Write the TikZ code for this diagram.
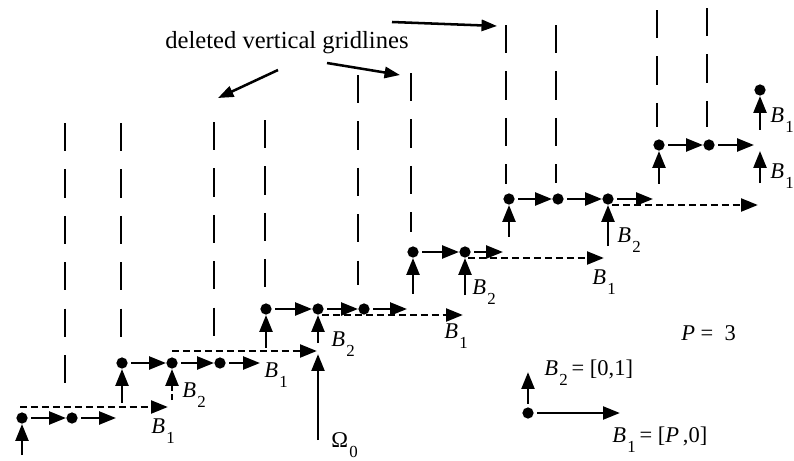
\documentclass[tikz,border=0pt]{standalone}
\usepackage{fontspec}
\setmainfont{Liberation Serif}
\usetikzlibrary{arrows.meta}

\newcommand{\vsub}[2]{#1\kern1pt\raisebox{-0.45em}{\fontsize{12}{12}\selectfont #2}}

\begin{document}
\begin{tikzpicture}[x=0.025cm, y=-0.025cm,
    site/.style={circle, fill=black, inner sep=0pt, minimum size=8pt},
    spot/.style={circle, inner sep=0pt, minimum size=8pt},
    vec/.style={line width=2.1pt, -{Triangle[length=12pt, width=9pt]}},
    hvec/.style={vec, shorten <=2.5pt},
    upvec/.style={vec, shorten <=6.5pt},
    bvec/.style={vec, dash pattern=on 5pt off 2.8pt},
    gridline/.style={line width=2pt, dash pattern=on 20pt off 13pt},
    lab/.style={anchor=base west, inner sep=0pt, font=\fontsize{16}{18}\selectfont},
    note/.style={line width=1.8pt, -{Triangle[length=11pt, width=8pt]}}]
  \useasboundingbox (0,0) rectangle (794,460);

  % deleted vertical gridlines, in pairs
  \draw[gridline] (65,123) -- (65,395);
  \draw[gridline] (121,123) -- (121,340);
  \draw[gridline] (214,122) -- (214,338);
  \draw[gridline] (265,120) -- (265,287);
  \draw[gridline] (358,75) -- (358,285);
  \draw[gridline] (411,73) -- (411,232);
  \draw[gridline] (506,25) -- (506,184);
  \draw[gridline] (556,25) -- (556,183);
  \draw[gridline] (657,10) -- (657,127);
  \draw[gridline] (707,8) -- (707,127);

  % lattice points on the staircase
  \node[site] (p0) at (22,418) {};
  \node[site] (p1) at (72,418) {};
  \node[spot] (e0) at (122,418) {};
  \node[site] (p2) at (122,363) {};
  \node[site] (p3) at (172,363) {};
  \node[site] (p4) at (220,363) {};
  \node[spot] (e1) at (266,363) {};
  \node[site] (p5) at (266,309) {};
  \node[site] (p6) at (318,309) {};
  \node[site] (p7) at (364,309) {};
  \node[spot] (e2) at (413,309) {};
  \node[site] (p8) at (413,252) {};
  \node[site] (p9) at (465,252) {};
  \node[spot] (e3) at (509,252) {};
  \node[site] (p10) at (509,199) {};
  \node[site] (p11) at (558,199) {};
  \node[site] (p12) at (608,199) {};
  \node[spot] (e4) at (659,199) {};
  \node[site] (p13) at (659,145) {};
  \node[site] (p14) at (709,145) {};
  \node[spot] (e5) at (760,145) {};
  \node[site] (p15) at (760,90) {};

  % unit steps along each row
  \draw[hvec] (p0) -- (p1);
  \draw[hvec] (p1) -- (e0);
  \draw[hvec] (p2) -- (p3);
  \draw[hvec] (p3) -- (p4);
  \draw[hvec] (p4) -- (e1);
  \draw[hvec] (p5) -- (p6);
  \draw[hvec] (p6) -- (p7);
  \draw[hvec] (p7) -- (e2);
  \draw[hvec] (p8) -- (p9);
  \draw[hvec] (p9) -- (e3);
  \draw[hvec] (p10) -- (p11);
  \draw[hvec] (p11) -- (p12);
  \draw[hvec] (p12) -- (e4);
  \draw[hvec] (p13) -- (p14);
  \draw[hvec] (p14) -- (e5);

  % unit steps up to the next row
  \coordinate (u0) at (22,455);
  \draw[vec] (u0) -- (p0);
  \draw[upvec] (e0) -- (p2);
  \draw[upvec] (e1) -- (p5);
  \draw[upvec] (e2) -- (p8);
  \draw[upvec] (e3) -- (p10);
  \draw[upvec] (e4) -- (p13);
  \draw[upvec] (e5) -- (p15);

  % B1 steps (dashed) and the B2 steps after them
  \coordinate (a0) at (20,407);  \coordinate (b0) at (168,407);
  \coordinate (a1) at (172,351); \coordinate (b1) at (317,351);
  \coordinate (a2) at (322,315); \coordinate (b2) at (463,315);
  \coordinate (a3) at (468,258); \coordinate (b3) at (604,258);
  \coordinate (a4) at (612,205); \coordinate (b4) at (758,205);
  \draw[bvec] (a0) -- (b0);
  \draw[bvec] (a1) -- (b1);
  \draw[bvec] (a2) -- (b2);
  \draw[bvec] (a3) -- (b3);
  \draw[bvec] (a4) -- (b4);
  \coordinate (c3) at (172,400);
  \coordinate (c6) at (318,343);
  \coordinate (c9) at (465,295);
  \coordinate (c12) at (608,246);
  \coordinate (c15) at (760,183);
  \draw[vec, dash pattern=on 4pt off 2.5pt] (c3) -- (p3);
  \draw[vec] (c6) -- (p6);
  \draw[vec] (c9) -- (p9);
  \draw[vec] (c12) -- (p12);
  \draw[vec] (c15) -- (e5);

  % start point
  \coordinate (om) at (318,440);
  \coordinate (w6) at (318,354);
  \draw[vec] (om) -- (w6);

  % step labels
  \node[lab] (lb1a) at (151,433) {\vsub{\textit{B}}{1}};
  \node[lab] (lb2a) at (182,397) {\vsub{\textit{B}}{2}};
  \node[lab] (lb1b) at (264,377) {\vsub{\textit{B}}{1}};
  \node[lab] (lb2b) at (331,346) {\vsub{\textit{B}}{2}};
  \node[lab] (lom) at (331,447) {\vsub{Ω}{0}};
  \node[lab] (lb1c) at (444,338) {\vsub{\textit{B}}{1}};
  \node[lab] (lb2c) at (472,294) {\vsub{\textit{B}}{2}};
  \node[lab] (lb1d) at (592,284) {\vsub{\textit{B}}{1}};
  \node[lab] (lb2d) at (617,242) {\vsub{\textit{B}}{2}};
  \node[lab] (lb1e) at (770,178) {\vsub{\textit{B}}{1}};
  \node[lab] (lb1f) at (770,122) {\vsub{\textit{B}}{1}};

  % legend
  \node[site] (lg) at (528,413) {};
  \coordinate (lgx) at (620,413);
  \coordinate (lgy) at (528,372);
  \draw[hvec] (lg) -- (lgx);
  \draw[hvec] (lg) -- (lgy);
  \node[lab] (lgb2) at (544,375) {\vsub{\textit{B}}{2}\,= [0,1]};
  \node[lab] (lgb1) at (612,442) {\vsub{\textit{B}}{1}\,= [\textit{P}\,,0]};
  \node[lab] (lgp) at (681,340) {\textit{P} =\ \ 3};

  % annotation
  \node[anchor=base west, inner sep=0pt, font=\fontsize{17.5}{20}\selectfont] (ann) at (165,48) {deleted vertical gridlines};
  \coordinate (s1) at (278,70);  \coordinate (n1) at (218,98);
  \coordinate (s2) at (327,63);  \coordinate (n2) at (400,75);
  \coordinate (s3) at (392,22);  \coordinate (n3) at (497,26);
  \draw[note] (s1) -- (n1);
  \draw[note] (s2) -- (n2);
  \draw[note] (s3) -- (n3);
\end{tikzpicture}
\end{document}
